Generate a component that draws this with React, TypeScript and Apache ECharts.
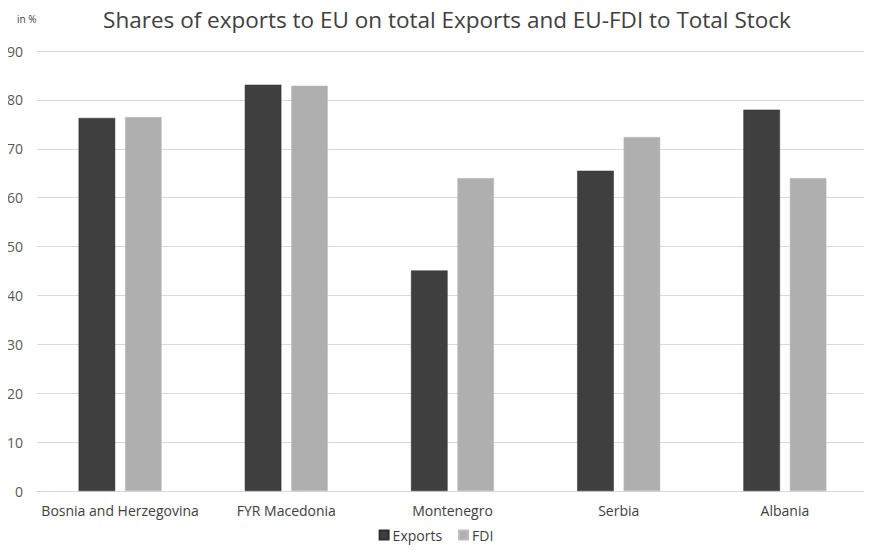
import React, { useEffect, useRef } from "react";
import * as echarts from "echarts";

const categories = ["Bosnia and Herzegovina", "FYR Macedonia", "Montenegro", "Serbia", "Albania"];
const exportsValues = [76.3, 83.1, 45.1, 65.5, 78.0];
const fdiValues = [76.5, 82.9, 64.0, 72.4, 64.0];
const yTicks = { min: 0, max: 90, interval: 10 };

const FONT = "'Open Sans', 'Noto Sans', sans-serif";

export default function App() {
  const ref = useRef<HTMLDivElement>(null);
  useEffect(() => {
    if (!ref.current) return;
    const chart = echarts.init(ref.current, null, { renderer: "svg" });
    chart.setOption({
      animation: false,
      backgroundColor: "#ffffff",
      title: [
        {
          text: "Shares of exports to EU on total Exports and EU-FDI to Total Stock",
          left: 442,
          textAlign: "center",
          top: 3,
          textStyle: { fontFamily: FONT, fontSize: 22.5, fontWeight: "normal", color: "#404040" },
        },
        {
          text: "in %",
          left: 12,
          top: 9,
          textStyle: { fontFamily: FONT, fontSize: 10, fontWeight: "normal", color: "#404040" },
        },
      ],
      legend: {
        top: 528,
        left: "center",
        padding: 0,
        itemWidth: 9,
        itemHeight: 9,
        itemGap: 16,
        icon: "rect",
        textStyle: { fontFamily: FONT, fontSize: 14, color: "#404040", padding: [0, 0, 0, -1] },
        data: ["Exports", "FDI"],
      },
      grid: { left: 37, right: 4, top: 51, bottom: 62, containLabel: false },
      xAxis: {
        type: "category",
        data: categories,
        axisTick: { show: false },
        axisLine: { lineStyle: { color: "#d9d9d9", width: 1 } },
        axisLabel: { fontFamily: FONT, fontSize: 14, color: "#404040", margin: 12, interval: 0 },
      },
      yAxis: {
        type: "value",
        min: yTicks.min,
        max: yTicks.max,
        interval: yTicks.interval,
        axisLine: { show: false },
        axisTick: { show: false },
        splitLine: { lineStyle: { color: "#d9d9d9", width: 1 } },
        axisLabel: { fontFamily: FONT, fontSize: 14, color: "#595959", margin: 14 },
      },
      series: [
        {
          name: "Exports",
          type: "bar",
          data: exportsValues,
          barWidth: "22%",
          barGap: "27%",
          itemStyle: { color: "#3f3f3f", borderColor: "#2e2e2e", borderWidth: 0.5 },
        },
        {
          name: "FDI",
          type: "bar",
          data: fdiValues,
          barWidth: "22%",
          itemStyle: { color: "#afafaf", borderColor: "#bdbdbd", borderWidth: 0.5 },
        },
      ],
    });
    return () => chart.dispose();
  }, []);
  return <div ref={ref} style={{ width: 872, height: 553, margin: -8 }} />;
}
